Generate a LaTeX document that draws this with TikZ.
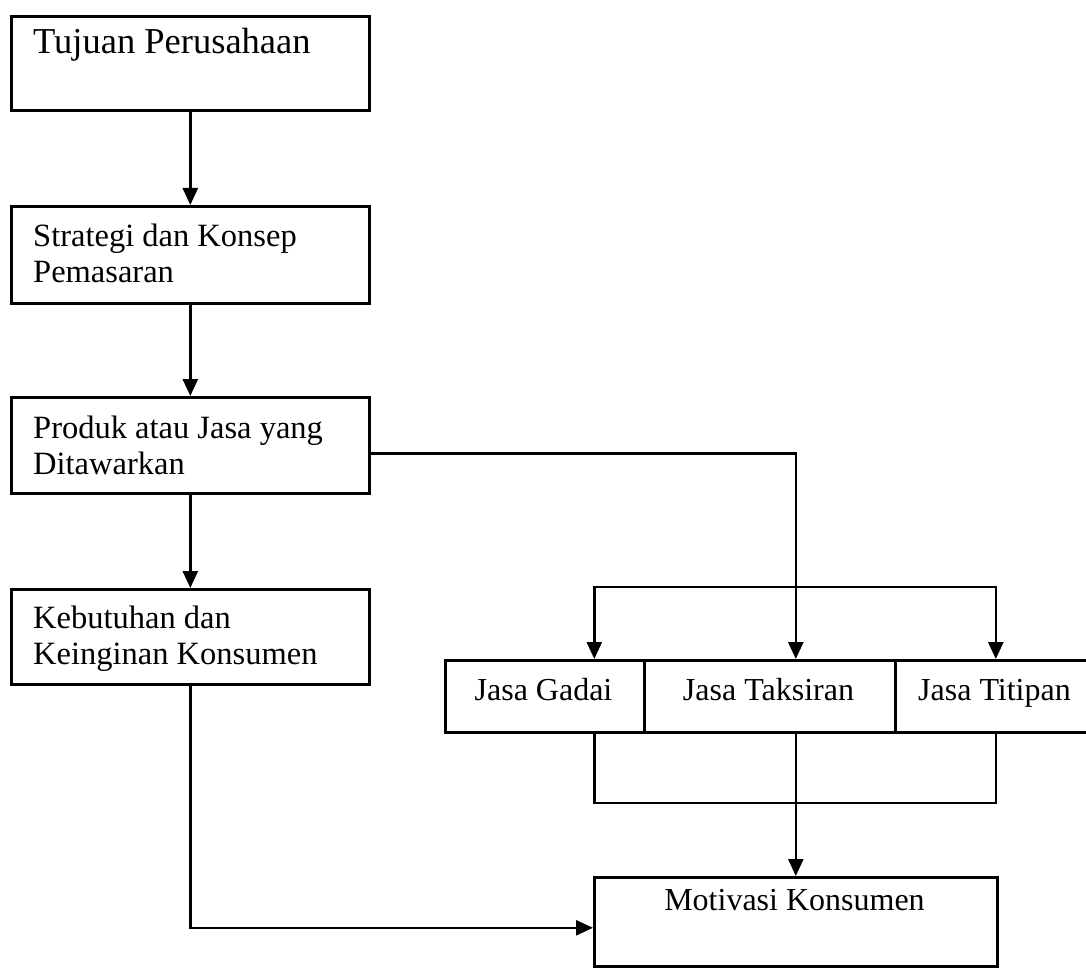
\documentclass[tikz,border=0pt]{standalone}
\usepackage{fontspec}
\setmainfont{Liberation Serif}
\usetikzlibrary{arrows.meta}
\begin{document}
\begin{tikzpicture}[x=1pt,y=-1pt,
  box/.style={draw, line width=2.6pt, inner sep=0pt, anchor=north west},
  txt/.style={inner sep=0pt, font=\fontsize{32.5}{36}\selectfont},
  conn/.style={line width=2.6pt},
  arr/.style={conn, -{Triangle[length=17pt,width=15pt]}}]
\useasboundingbox (0,0) rectangle (1086,968);

% boxes
\node[box, minimum width=358pt, minimum height=94pt] (b1) at (10,15) {};
\node[box, minimum width=358pt, minimum height=97pt] (b2) at (10,205) {};
\node[box, minimum width=358pt, minimum height=96pt] (b3) at (10,396) {};
\node[box, minimum width=358pt, minimum height=95pt] (b4) at (10,588) {};
\node[box, minimum width=199pt, minimum height=72pt] (jg) at (444,659) {};
\node[box, minimum width=251pt, minimum height=72pt] (jt) at (643,659) {};
\node[box, minimum width=201pt, minimum height=72pt] (jti) at (894,659) {};
\node[box, minimum width=403pt, minimum height=89pt] (mot) at (593,876) {};

% texts
\node[txt, anchor=base west, font=\fontsize{36.5}{40}\selectfont] (t1) at (33,54) {Tujuan Perusahaan};
\node[txt, anchor=base west] (t2) at (33,247) {\parbox[t]{330pt}{Strategi dan Konsep\\Pemasaran}};
\node[txt, anchor=base west] (t3) at (33,438) {\parbox[t]{330pt}{Produk atau Jasa yang\\Ditawarkan}};
\node[txt, anchor=base west] (t4) at (33,628) {\parbox[t]{330pt}{Kebutuhan dan\\Keinginan Konsumen}};
\node[txt, anchor=base, font=\fontsize{32}{36}\selectfont] (tg) at (543.5,700) {Jasa Gadai};
\node[txt, anchor=base, font=\fontsize{32}{36}\selectfont] (tt) at (768.5,700) {Jasa Taksiran};
\node[txt, anchor=base, font=\fontsize{32}{36}\selectfont] (tti) at (994.5,700) {Jasa Titipan};
\node[txt, anchor=base, font=\fontsize{32}{36}\selectfont] (tm) at (794.5,910) {Motivasi Konsumen};

% connectors
\draw[arr] (b1.south) -- (b2.north);
\draw[arr] (b2.south) -- (b3.north);
\draw[arr] (b3.south) -- (b4.north);
\draw[arr] ([yshift=-8pt]b3.east) -| (jt.north -| mot.north);
\coordinate (fork) at (794.5,587);
\draw[arr] (fork) -| ([xshift=49.5pt]jg.north);
\draw[arr] (fork) -| (jti.north);
\coordinate (merge) at (794.5,803);
\draw[conn] ([xshift=49.5pt]jg.south) |- (merge) -| (jti.south);
\draw[arr] (jt.south -| mot.north) -- (mot.north);
\draw[arr] (b4.south) |- ([yshift=-6pt]mot.west);
\end{tikzpicture}
\end{document}
